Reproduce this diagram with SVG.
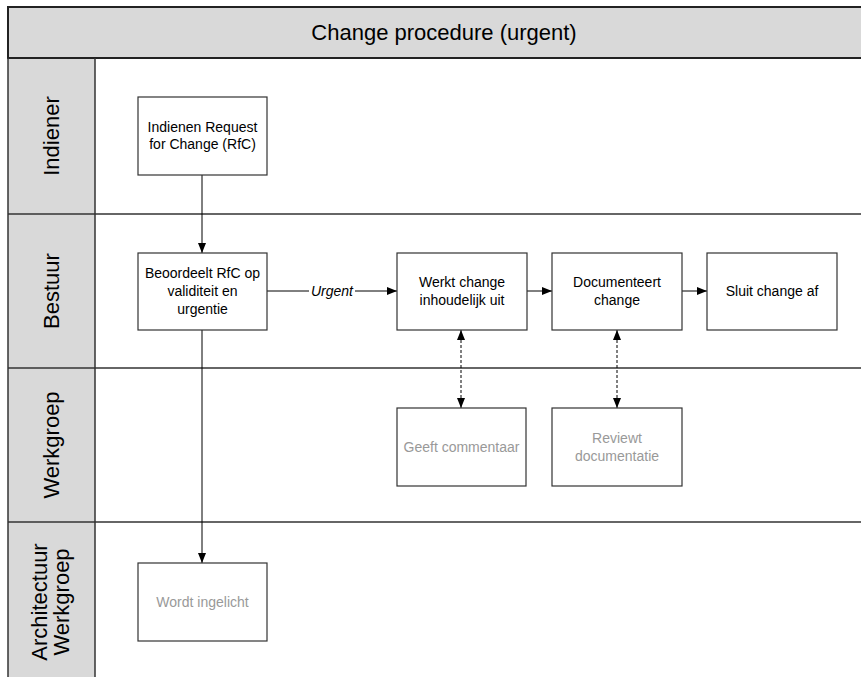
<svg xmlns="http://www.w3.org/2000/svg" width="861" height="677" viewBox="0 0 861 677">
<defs>
<style>
.lane{fill:#d9d9d9;stroke:none}
.sep{stroke:#333;stroke-width:1.5;fill:none}
.box{fill:#fff;stroke:#333;stroke-width:1.2}
.t{font-family:"Liberation Sans",Arial,sans-serif;font-size:14px;fill:#000;text-anchor:middle}
.g{fill:#999}
.big{font-family:"Liberation Sans",Arial,sans-serif;font-size:22px;fill:#000;text-anchor:middle}
.c{stroke:#000;stroke-width:1;fill:none}
.d{stroke:#000;stroke-width:1;fill:none;stroke-dasharray:3,2}
</style>
<marker id="ah" viewBox="0 0 10 10" refX="10" refY="5" markerWidth="10" markerHeight="10" markerUnits="userSpaceOnUse" orient="auto-start-reverse">
<path d="M0,1 L10,5 L0,9 Z" fill="#000"/>
</marker>
</defs>
<rect width="861" height="677" fill="#fff"/>
<g id="pool">
<rect class="lane" x="8" y="58" width="87" height="625"/>
<rect x="8" y="7" width="870" height="51" fill="#d9d9d9" stroke="#222" stroke-width="2"/>
<text class="big" x="444" y="40">Change procedure (urgent)</text>
<line class="sep" x1="8" y1="58" x2="8" y2="677"/>
<line class="sep" x1="95" y1="58" x2="95" y2="677"/>
<line class="sep" x1="8" y1="214" x2="861" y2="214"/>
<line class="sep" x1="8" y1="368" x2="861" y2="368"/>
<line class="sep" x1="8" y1="522" x2="861" y2="522"/>
</g>
<g id="lane-indiener"><text class="big" transform="translate(59,136) rotate(-90)">Indiener</text></g>
<g id="lane-bestuur"><text class="big" transform="translate(59,291) rotate(-90)">Bestuur</text></g>
<g id="lane-werkgroep"><text class="big" transform="translate(59,445) rotate(-90)">Werkgroep</text></g>
<g id="lane-architectuur"><text class="big" transform="translate(47,602) rotate(-90)">Architectuur</text><text class="big" transform="translate(69,602) rotate(-90)">Werkgroep</text></g>

<g id="connectors">
<line class="c" x1="202" y1="175" x2="202" y2="253" marker-end="url(#ah)"/>
<line class="c" x1="267" y1="291" x2="309" y2="291"/>
<line class="c" x1="355" y1="291" x2="397" y2="291" marker-end="url(#ah)"/>
<text class="t" x="332" y="296" font-style="italic">Urgent</text>
<line class="c" x1="527" y1="291" x2="552" y2="291" marker-end="url(#ah)"/>
<line class="c" x1="682" y1="291" x2="707" y2="291" marker-end="url(#ah)"/>
<line class="d" x1="461" y1="330" x2="461" y2="408" marker-start="url(#ah)" marker-end="url(#ah)"/>
<line class="d" x1="617" y1="330" x2="617" y2="408" marker-start="url(#ah)" marker-end="url(#ah)"/>
<line class="c" x1="202" y1="330" x2="202" y2="563" marker-end="url(#ah)"/>
</g>

<g id="n-indienen"><rect class="box" x="138" y="97" width="129" height="78"/><text class="t" x="202.5" y="132">Indienen Request</text><text class="t" x="202.5" y="149">for Change (RfC)</text></g>
<g id="n-beoordeelt"><rect class="box" x="138" y="253" width="129" height="77"/><text class="t" x="202.5" y="278">Beoordeelt RfC op</text><text class="t" x="202.5" y="296">validiteit en</text><text class="t" x="202.5" y="314">urgentie</text></g>
<g id="n-werkt"><rect class="box" x="397" y="253" width="130" height="77"/><text class="t" x="462" y="287">Werkt change</text><text class="t" x="462" y="305">inhoudelijk uit</text></g>
<g id="n-documenteert"><rect class="box" x="552" y="253" width="130" height="77"/><text class="t" x="617" y="287">Documenteert</text><text class="t" x="617" y="305">change</text></g>
<g id="n-sluit"><rect class="box" x="707" y="253" width="130" height="77"/><text class="t" x="772" y="296">Sluit change af</text></g>
<g id="n-geeft"><rect class="box" x="397" y="408" width="129" height="78"/><text class="t g" x="461.5" y="452">Geeft commentaar</text></g>
<g id="n-reviewt"><rect class="box" x="552" y="408" width="130" height="78"/><text class="t g" x="617" y="443">Reviewt</text><text class="t g" x="617" y="461">documentatie</text></g>
<g id="n-wordt"><rect class="box" x="138" y="563" width="129" height="78"/><text class="t g" x="202.5" y="607">Wordt ingelicht</text></g>
</svg>
